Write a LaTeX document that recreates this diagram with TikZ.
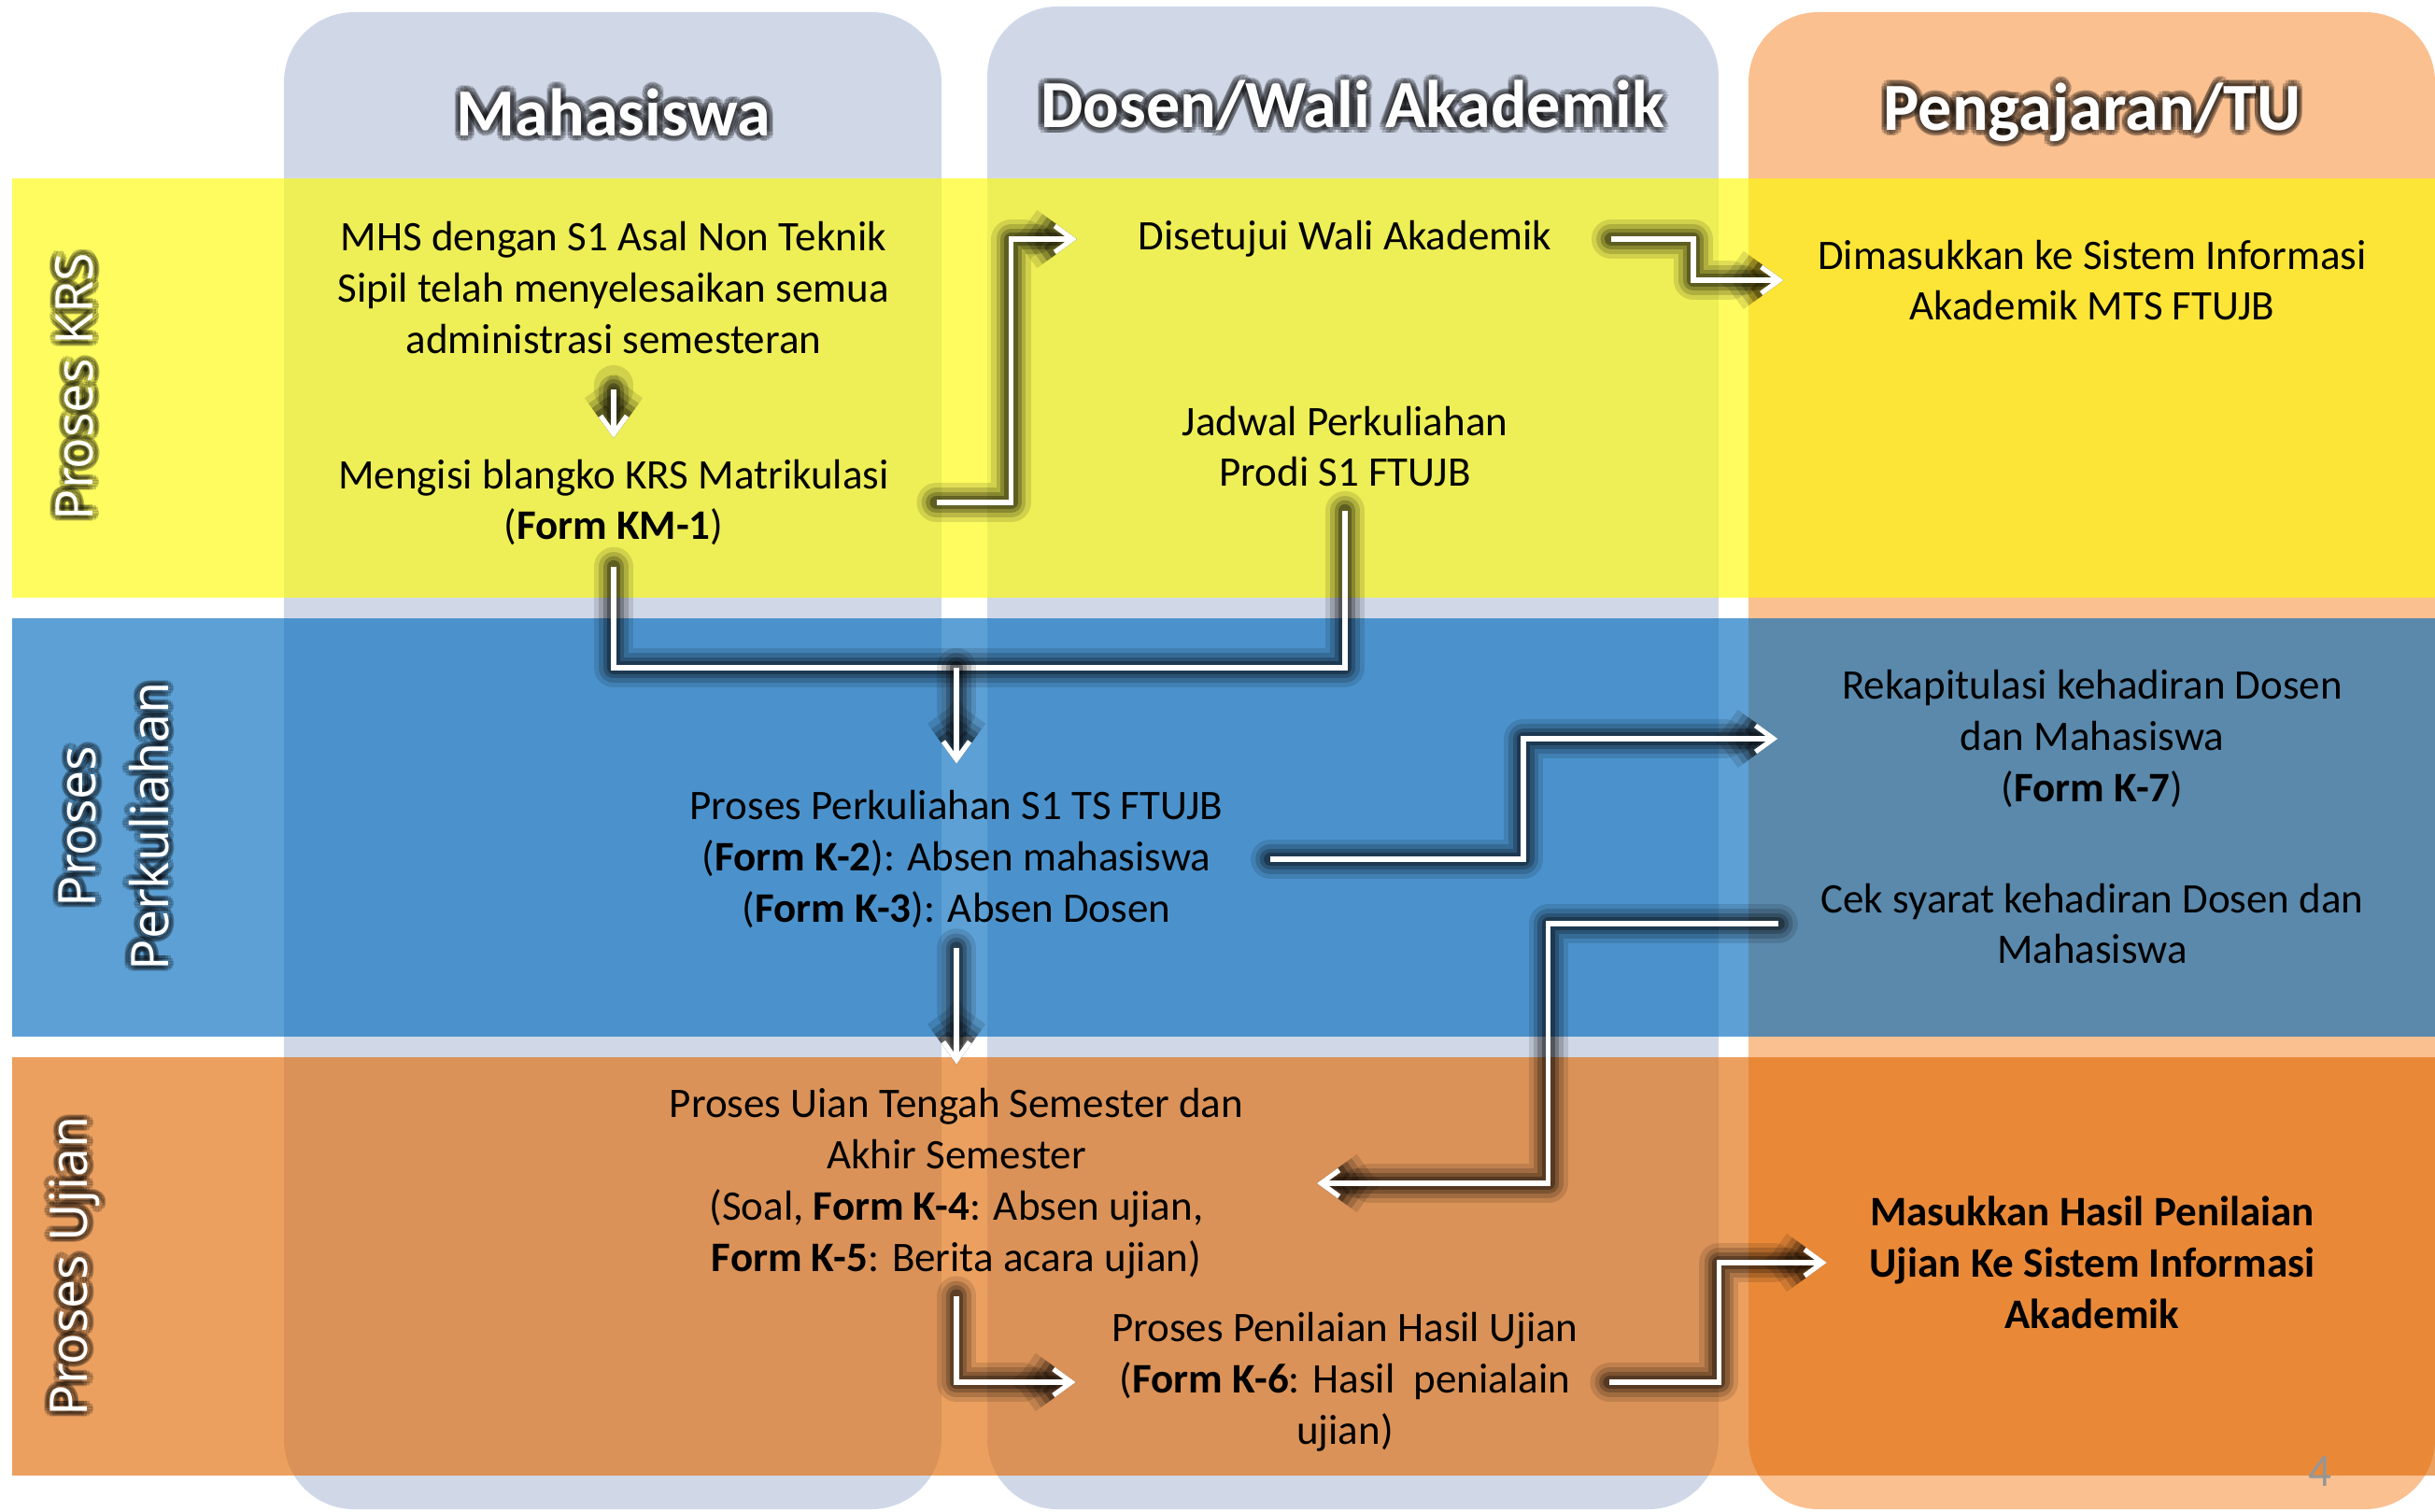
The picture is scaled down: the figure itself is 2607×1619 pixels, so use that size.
\documentclass[tikz,border=0pt]{standalone}
\usepackage{fontspec}
\setmainfont{Carlito}
\newfontfamily\rowfont{Open Sans}
\usetikzlibrary{arrows.meta}

\definecolor{laneBlue}{RGB}{208,216,232}
\definecolor{laneOrange}{RGB}{250,192,144}
\definecolor{bandKRS}{RGB}{255,251,5}
\definecolor{bandKul}{RGB}{0,107,189}
\definecolor{bandUji}{RGB}{224,107,7}
\definecolor{pageGray}{RGB}{150,150,150}

\begin{document}
\begin{tikzpicture}[x=0.01cm,y=-0.01cm]
\tikzstyle{txt}=[align=center,inner sep=0pt,font=\fontsize{12.8}{15.6}\selectfont]
\tikzstyle{head}=[text=white,font=\fontsize{20.5}{24}\selectfont\bfseries]
\tikzstyle{rowlbl}=[rotate=90,align=center,text=white,font=\rowfont\fontsize{15.8}{22}\selectfont]
\tikzstyle{glow}=[text=black,opacity=.2]
\tikzstyle{flowline}=[white,line width=1.5pt,
  preaction={draw=black,opacity=.12,line width=12pt,line join=round,line cap=round},
  preaction={draw=black,opacity=.16,line width=9pt,line join=round,line cap=round},
  preaction={draw=black,opacity=.22,line width=6.5pt,line join=round,line cap=round},
  preaction={draw=black,opacity=.3,line width=4pt,line join=round,line cap=round}]
\tikzstyle{flow}=[flowline,-{Straight Barb[length=5.5pt,width=8pt]}]
\useasboundingbox (0,0) rectangle (2607,1619);
% lanes
\fill[laneBlue,rounded corners=0.75cm] (304,13) rectangle (1008,1616);
\fill[laneBlue,rounded corners=0.75cm] (1057,7) rectangle (1840,1616);
\fill[laneOrange,rounded corners=0.75cm] (1872,13) rectangle (2607,1616);
% bands
\fill[bandKRS,opacity=.64] (13,191) rectangle (2607,640);
\fill[bandKul,opacity=.64] (13,662) rectangle (2607,1110);
\fill[bandUji,opacity=.64] (13,1132) rectangle (2607,1580);
% glow behind the white labels
\foreach \a in {0,30,...,330}{
  \path[shift={(\a:1.8pt)}]
    (657,120) node[head,glow] {Mahasiswa}
    (1448,113) node[head,glow] {Dosen/Wali Akademik}
    (2240,120) node[head,glow] {Pengajaran/TU}
    (80,414) node[rowlbl,glow] {Proses KRS}
    (122,885) node[rowlbl,glow] {Proses\\Perkuliahan}
    (80,1356) node[rowlbl,glow] {Proses Ujian};
}
\path
  (657,120) node[head] (hMhs) {Mahasiswa}
  (1448,113) node[head] (hDsn) {Dosen/Wali Akademik}
  (2240,120) node[head] (hTU) {Pengajaran/TU}
  (80,414) node[rowlbl] (rKRS) {Proses KRS}
  (122,885) node[rowlbl] (rKul) {Proses\\Perkuliahan}
  (80,1356) node[rowlbl] (rUji) {Proses Ujian}
;
\path
  (657,308) node[txt] (mhs) {MHS dengan S1 Asal Non Teknik\\Sipil telah menyelesaikan semua\\administrasi semesteran}
  (657,538) node[txt] (krs) {Mengisi blangko KRS Matrikulasi\\(\textbf{Form KM-1})}
  (1440,256) node[txt] (setuju) {Disetujui Wali Akademik}
  (1440,478) node[txt] (jadwal) {Jadwal Perkuliahan\\Prodi S1 FTUJB}
  (2240,300) node[txt] (simak) {Dimasukkan ke Sistem Informasi\\Akademik MTS FTUJB}
  (1024,920) node[txt] (kuliah) {Proses Perkuliahan S1 TS FTUJB\\(\textbf{Form K-2}): Absen mahasiswa\\(\textbf{Form K-3}): Absen Dosen}
  (2240,791) node[txt] (rekap) {Rekapitulasi kehadiran Dosen\\dan Mahasiswa\\(\textbf{Form K-7})}
  (2240,989) node[txt] (cek) {Cek syarat kehadiran Dosen dan\\Mahasiswa}
  (1024,1267) node[txt] (uts) {Proses Uian Tengah Semester dan\\Akhir Semester\\(Soal, \textbf{Form K-4}: Absen ujian,\\\textbf{Form K-5}: Berita acara ujian)}
  (1440,1480) node[txt] (nilai) {Proses Penilaian Hasil Ujian\\(\textbf{Form K-6}: Hasil~ penialain\\ujian)}
  (2240,1352) node[txt,font=\fontsize{12.8}{15.6}\selectfont\bfseries] (masuk) {Masukkan Hasil Penilaian\\Ujian Ke Sistem Informasi\\Akademik}
  (2484,1576) node[text=pageGray,font=\fontsize{14}{16}\selectfont] (pgnum) {4}
;
\coordinate (merge) at (1024,715);
\draw[flow,shorten <=0.38cm,shorten >=0.22cm] (mhs.south) -- (krs.north);
\draw[flow,shorten <=0.5cm,shorten >=0.65cm] (krs.east) -- ++(130,0) |- (setuju.west);
\draw[flow,shorten <=0.63cm,shorten >=0.36cm] (setuju.east) -- ++(151,0) |- (simak.west);
\draw[flowline,shorten <=0.22cm,shorten >=0.25cm] (krs.south) |- (merge) -| (jadwal.south);
\draw[flow,shorten >=0.28cm] (merge) -- (kuliah.north);
\draw[flow,shorten <=0.5cm,shorten >=0.68cm] (kuliah.east) -- ++(321,0) |- (rekap.west);
\draw[flow,shorten <=0.45cm,shorten >=0.78cm] (cek.west) -- ++(-291,0) |- (uts.east);
\draw[flow,shorten <=0.21cm,shorten >=0.25cm] (kuliah.south) -- (uts.north);
\draw[flow,shorten <=0.18cm,shorten >=0.38cm] (uts.south) |- (nilai.west);
\draw[flow,shorten <=0.33cm,shorten >=0.45cm] (nilai.east) -- ++(150,0) |- (masuk.west);
\end{tikzpicture}
\end{document}
